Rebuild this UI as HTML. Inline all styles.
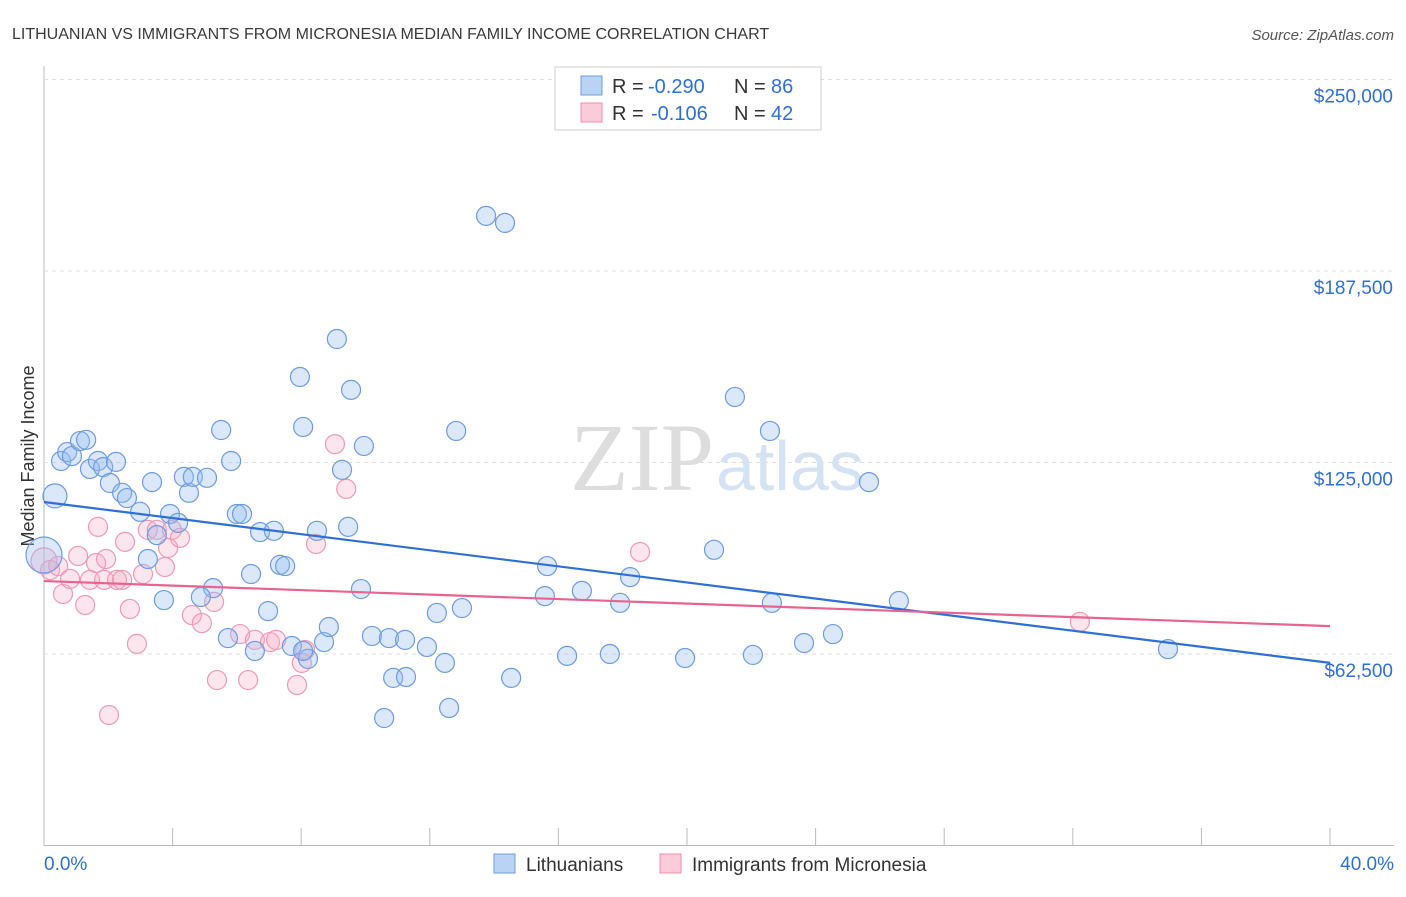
<!DOCTYPE html>
<html><head><meta charset="utf-8"><style>
body{margin:0;background:#fff;font-family:"Liberation Sans",sans-serif}
</style></head><body>
<svg id="c" width="1406" height="892" xmlns="http://www.w3.org/2000/svg">
<text x="12" y="39" font-size="16" fill="#3a3a3a">LITHUANIAN VS IMMIGRANTS FROM MICRONESIA MEDIAN FAMILY INCOME CORRELATION CHART</text>
<text x="1394" y="40" font-size="15" fill="#555" font-style="italic" text-anchor="end">Source: ZipAtlas.com</text>
<text x="714" y="490" font-size="96" fill="#ddd" font-family="Liberation Serif" text-anchor="end">ZIP</text>
<text x="716" y="490" font-size="70" fill="#d4e2f4">atlas</text>
<text x="34" y="456" font-size="18" fill="#333" transform="rotate(-90 34 456)" text-anchor="middle">Median Family Income</text>
<g id="grid"></g><g id="pts"></g><g id="lines"></g>
<g>
<rect x="555" y="67" width="266" height="63" fill="#fff" stroke="#ccc"/>
<rect x="581" y="76" width="21" height="19" fill="#b9d3f5" stroke="#6d9be0"/>
<rect x="581" y="103" width="21" height="19" fill="#fbcbd9" stroke="#ec8fae"/>
<g font-size="20" fill="#333">
<text x="612" y="93">R =</text>
<text x="648" y="93" fill="#2f6fd8">-0.290</text>
<text x="734" y="93">N =</text>
<text x="771" y="93" fill="#2f6fd8">86</text>
<text x="612" y="120">R =</text>
<text x="651" y="120" fill="#2f6fd8">-0.106</text>
<text x="734" y="120">N =</text>
<text x="771" y="120" fill="#2f6fd8">42</text>
</g>
</g>
<g>
<rect x="494" y="854" width="21" height="19" fill="#b9d3f5" stroke="#6d9be0"/>
<text x="526" y="871" font-size="19" fill="#333">Lithuanians</text>
<rect x="660" y="854" width="21" height="19" fill="#fbcbd9" stroke="#ec8fae"/>
<text x="692" y="871" font-size="19" fill="#333">Immigrants from Micronesia</text>
</g>
</svg>
<script>
const yTicks=[62500,125000,187500,250000];
const yTickLabels=["$62,500","$125,000","$187,500","$250,000"];
const xTicks=[0,4,8,12,16,20,24,28,32,36,40];
const blueX=[0.34,0,0.53,0.72,0.87,1.12,1.31,1.43,1.68,1.84,2.24,2.05,2.43,2.58,2.99,3.36,3.23,3.51,3.73,3.92,4.17,4.35,4.51,4.63,5.07,5.26,4.88,5.51,5.82,5.72,6.0,6.16,6.44,6.56,6.72,6.97,7.15,7.34,7.5,7.71,7.96,8.06,8.21,8.06,8.49,8.71,8.86,9.11,9.27,9.46,9.55,9.95,9.86,10.2,10.58,10.73,10.86,11.26,11.23,11.91,12.22,12.47,12.6,12.82,13.0,13.75,14.34,14.53,15.58,15.65,16.27,16.73,17.6,17.92,18.23,19.94,20.84,21.49,22.05,22.58,22.64,23.64,24.54,25.66,26.59,34.96];
const blueY=[114.1,94.8,125.5,128.4,127.1,132.0,132.4,122.9,125.5,123.5,125.2,118.3,115.1,113.4,108.9,118.6,93.5,101.3,80.1,108.2,105.3,120.3,115.1,120.3,120.0,84.0,81.1,135.6,125.5,67.7,108.2,108.2,88.6,63.5,102.3,76.5,102.7,91.6,91.2,65.1,152.9,136.6,60.9,63.5,102.7,66.4,71.3,165.3,122.6,104.0,148.7,130.4,83.7,68.4,41.6,67.7,54.7,55.0,67.1,64.8,75.9,59.6,44.9,135.3,77.5,205.5,203.2,54.7,81.4,91.2,61.9,83.1,62.5,79.2,87.6,61.2,96.5,146.4,62.2,135.3,79.2,66.1,69.0,118.6,79.8,64.1];
const pinkX=[0,0.19,0.44,0.59,0.81,1.06,1.28,1.43,1.62,1.68,1.87,1.93,2.02,2.27,2.43,2.52,2.67,2.89,3.08,3.23,3.51,3.76,3.86,3.98,4.23,4.6,4.91,5.29,5.38,6.1,6.35,6.56,7.03,7.22,7.87,8.02,8.12,8.46,9.05,9.4,18.54,32.22];
const pinkY=[92.9,89.9,91.2,82.1,87.0,94.5,78.5,86.7,92.2,104.0,86.7,93.5,42.6,86.7,86.7,99.1,77.2,65.8,88.6,103.0,103.0,90.9,97.1,103.0,100.4,75.2,72.6,79.5,54.0,69.0,54.0,67.1,66.4,67.1,52.4,59.6,63.8,98.4,131.0,116.4,95.8,73.0];
const blueTrend=[112.1,59.6];
const pinkTrend=[86.3,71.6];
const X0=44,X1=1330,Y0=845.5,Y1=79.5;
const xs=v=>X0+(X1-X0)*v/40;
const ys=v=>Y0-(Y0-Y1)*v/250000;
const NS="http://www.w3.org/2000/svg";
function mk(t,a,p){const e=document.createElementNS(NS,t);for(const k in a)e.setAttribute(k,a[k]);p.appendChild(e);return e;}
const grid=document.getElementById('grid');
mk('line',{x1:X0,y1:66,x2:X0,y2:Y0,stroke:'#bbb'},grid);
mk('line',{x1:X0,y1:Y0,x2:1394,y2:Y0,stroke:'#bbb'},grid);
yTicks.forEach((t,i)=>{
 const g=mk('line',{x1:X0,y1:ys(t),x2:1394,y2:ys(t),stroke:'#ddd','stroke-dasharray':'4,4'},grid);
 
 
 const l=mk('text',{x:1393,y:ys(t)+23,'font-size':19,fill:'#2f6fd8','text-anchor':'end'},grid);
 l.textContent=yTickLabels[i];
 
 
});
xTicks.forEach(t=>{
 const k=mk('line',{x1:xs(t),y1:828,x2:xs(t),y2:Y0,stroke:'#bbb'},grid);
 
 
});
const xl0=mk('text',{x:44,y:870,'font-size':19,fill:'#2f6fd8'},grid);xl0.textContent='0.0%';


const xl1=mk('text',{x:1394,y:870,'font-size':19,fill:'#2f6fd8','text-anchor':'end'},grid);xl1.textContent='40.0%';


const pts=document.getElementById('pts');
pinkX.forEach((x,i)=>{
 const c=mk('circle',{cx:xs(x),cy:ys(pinkY[i]*1000),r:i==0?13:9.5,fill:'rgba(248,170,195,0.3)',stroke:'#ee9ab5','stroke-width':1.2},pts);
 
 
});
blueX.forEach((x,i)=>{
 const c=mk('circle',{cx:xs(x),cy:ys(blueY[i]*1000),r:i==0?12:(i==1?18:9.5),fill:'rgba(150,190,240,0.35)',stroke:'#6d9be0','stroke-width':1.2},pts);
 
 
});
const lines=document.getElementById('lines');
const bl=mk('line',{x1:xs(0),y1:ys(blueTrend[0]*1000),x2:xs(40),y2:ys(blueTrend[1]*1000),stroke:'#2f6fd8','stroke-width':2.2},lines);


const pl=mk('line',{x1:xs(0),y1:ys(pinkTrend[0]*1000),x2:xs(40),y2:ys(pinkTrend[1]*1000),stroke:'#e8638f','stroke-width':2.2},lines);


</script>
</body></html>
